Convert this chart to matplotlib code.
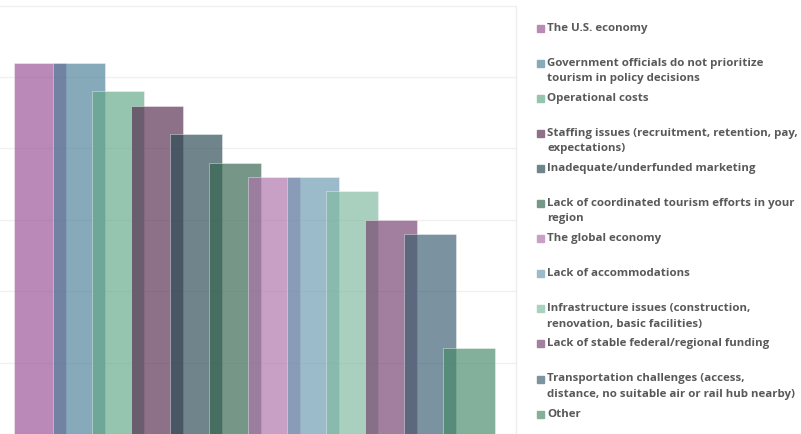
import matplotlib
matplotlib.use("Agg")
import matplotlib.pyplot as plt
from matplotlib.patches import Rectangle
import numpy as np

categories = [
    "The U.S. economy",
    "Government officials do not prioritize\ntourism in policy decisions",
    "Operational costs",
    "Staffing issues (recruitment, retention, pay,\nexpectations)",
    "Inadequate/underfunded marketing",
    "Lack of coordinated tourism efforts in your\nregion",
    "The global economy",
    "Lack of accommodations",
    "Infrastructure issues (construction,\nrenovation, basic facilities)",
    "Lack of stable federal/regional funding",
    "Transportation challenges (access,\ndistance, no suitable air or rail hub nearby)",
    "Other",
]
values = [52, 52, 48, 46, 42, 38, 36, 36, 34, 30, 28, 12]

# apparent colours (over white)
appear = ["#BA8AB7", "#88AABB", "#96C4AF", "#8E7189", "#6F858C", "#769888",
          "#C8A0C7", "#9BBBCA", "#A9D1BF", "#A2809E", "#7C93A0", "#84B09A"]
ALPHA = 0.67

def base_color(hexc, a=ALPHA):
    rgb = np.array(matplotlib.colors.to_rgb(hexc))
    c = (rgb - (1 - a)) / a
    return tuple(np.clip(c, 0, 1))

colors = [base_color(c) for c in appear]

W, H = 801, 434
fig = plt.figure(figsize=(W / 100, H / 100), dpi=100)

ax_left, ax_right = 0, 516
ymax = 60.5
unit = 428.4 / 60.0
ax_h = ymax * unit
ax = fig.add_axes([ax_left / W, 0, (ax_right - ax_left) / W, ax_h / H])

x = np.arange(len(values))
ax.set_xlim(-40 / 39, (516 - 40) / 39)
ax.set_ylim(0, ymax)
ax.set_yticks(np.arange(0, 61, 10))
ax.yaxis.grid(True, color="#F0F0F0", linewidth=1.0)
ax.set_axisbelow(True)
ax.tick_params(left=False, bottom=False, labelleft=False, labelbottom=False)
for s in ["left", "top", "bottom"]:
    ax.spines[s].set_visible(False)
ax.spines["right"].set_color("#EDEDED")
ax.spines["right"].set_linewidth(1.0)
ax.spines["right"].set_bounds(0, 60)

ax.bar(x, values, width=52 / 39, color=colors, alpha=ALPHA,
       edgecolor=(1, 1, 1, 0.5), linewidth=0.4, align="center")

# manual legend
font = dict(family=["Open Sans", "DejaVu Sans"], weight="bold", color="#595959")
fs = 8.25
y0, dy, line_h = 28, 35.1, 15.5
for i, (lab, col) in enumerate(zip(categories, appear)):
    yc = y0 + i * dy
    fig.patches.append(Rectangle((537 / W, 1 - (yc + 3.5) / H), 7 / W, 7 / H,
                                 transform=fig.transFigure, color=col,
                                 figure=fig))
    for j, line in enumerate(lab.split("\n")):
        fig.text(547 / W, 1 - (yc + j * line_h) / H, line, fontsize=fs,
                 va="center", ha="left", **font)

fig.savefig("out.png", dpi=100)
